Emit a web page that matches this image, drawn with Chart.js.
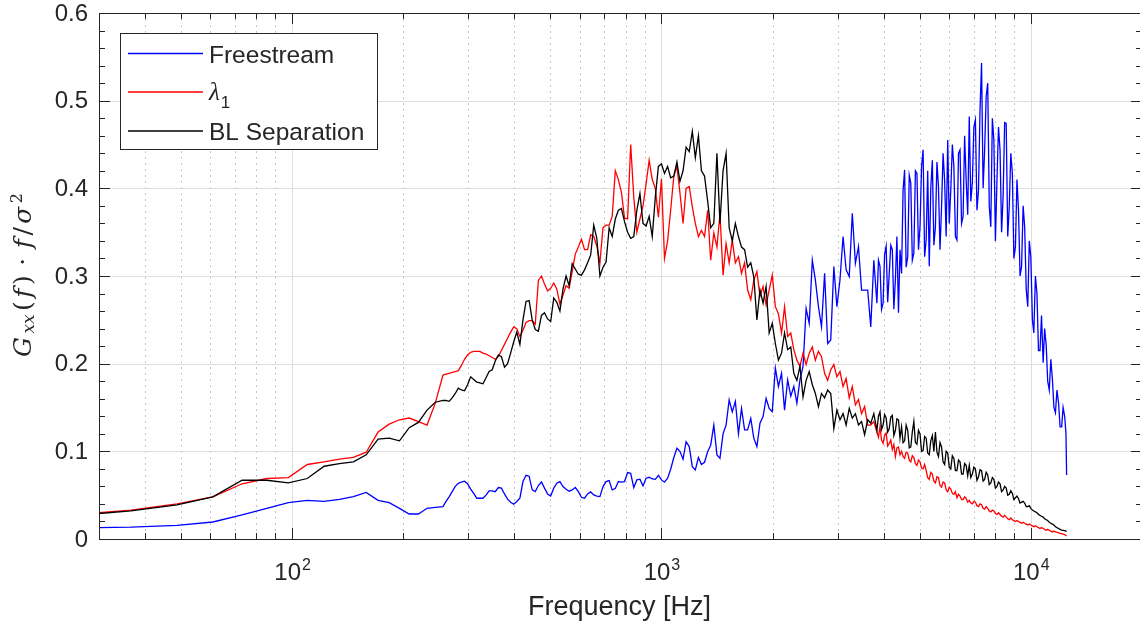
<!DOCTYPE html>
<html>
<head>
<meta charset="utf-8">
<title>Premultiplied spectra</title>
<script src="https://cdn.jsdelivr.net/npm/chart.js@4.4.1/dist/chart.umd.min.js"></script>
<style>
  html, body { margin: 0; padding: 0; background: #ffffff; overflow: hidden; }
  #wrap { width: 1144px; height: 626px; }
</style>
</head>
<body>
<div id="wrap"><canvas id="spectrumChart" width="1144" height="626"></canvas></div>
<script>
// Frequency axis [Hz] - shared by all three series
const freqHz = [
  24.4, 36.6, 48.8, 61.0, 73.2, 85.4, 97.7, 109.9, 122.1, 134.3,
  146.5, 158.7, 170.9, 183.1, 195.3, 207.5, 219.7, 231.9, 244.1,
  256.1, 261.0, 266.1, 271.2, 276.5, 281.8, 287.3, 292.9, 298.5, 304.3, 310.2,
  316.2, 322.4, 328.6, 335.0, 341.5, 348.1, 354.8, 361.7, 368.7, 375.8,
  383.1, 390.5, 398.1, 405.8, 413.7, 421.7, 429.9, 438.2, 446.7, 455.3,
  464.2, 473.2, 482.3, 491.7, 501.2, 510.9, 520.8, 530.9, 541.2, 551.7,
  562.3, 573.2, 584.3, 595.7, 607.2, 619.0, 631.0, 643.2, 655.6, 668.3,
  681.3, 694.5, 707.9, 721.7, 735.6, 749.9, 764.4, 779.2, 794.3, 809.7,
  825.4, 841.4, 857.7, 874.3, 891.3, 908.5, 926.1, 944.1, 962.4, 981.0,
  1000, 1019, 1039, 1059, 1080, 1101, 1122, 1144, 1166, 1189,
  1212, 1235, 1259, 1283, 1308, 1334, 1359, 1386, 1413, 1440,
  1468, 1496, 1525, 1555, 1585, 1616, 1647, 1679, 1711, 1745,
  1778, 1813, 1848, 1884, 1920, 1957, 1995, 2034, 2073, 2114,
  2154, 2196, 2239, 2282, 2326, 2371, 2417, 2464, 2512, 2561,
  2610, 2661, 2712, 2765, 2818, 2873, 2929, 2985, 3043, 3102,
  3162, 3224, 3286, 3350, 3415, 3481, 3548, 3617, 3687, 3758,
  3831, 3868, 3905, 3943, 3981, 4019, 4058, 4097, 4137, 4177,
  4217, 4258, 4299, 4340, 4382, 4424, 4467, 4510, 4553, 4597,
  4642, 4687, 4732, 4777, 4823, 4870, 4917, 4964, 5012, 5060,
  5109, 5158, 5208, 5258, 5309, 5360, 5412, 5464, 5517, 5570,
  5623, 5677, 5732, 5787, 5843, 5899, 5957, 6014, 6072, 6131,
  6190, 6250, 6310, 6371, 6432, 6494, 6556, 6619, 6683, 6748,
  6813, 6879, 6945, 7012, 7079, 7148, 7217, 7286, 7356, 7427,
  7499, 7571, 7644, 7718, 7792, 7868, 7943, 8020, 8097, 8175,
  8254, 8334, 8414, 8495, 8577, 8660, 8743, 8828, 8913, 8999,
  9085, 9173, 9261, 9351, 9441, 9532, 9624, 9717, 9810, 9905,
  10000, 10100, 10190, 10290, 10390, 10490, 10590, 10690, 10800, 10900,
  11010, 11110, 11220, 11330, 11440, 11550, 11660, 11770, 11890, 12000,
  12120, 12230, 12350, 12450, 12500
];

// Freestream
const freestream = [
  0.0125, 0.0135, 0.0156, 0.0194, 0.0274, 0.035, 0.0414, 0.0441, 0.043, 0.0452,
  0.0483, 0.0532, 0.0441, 0.0414, 0.035, 0.0285, 0.0285, 0.035, 0.036,
  0.037, 0.043, 0.048, 0.054, 0.060, 0.0635, 0.065, 0.066, 0.063, 0.057, 0.052,
  0.0465, 0.0465, 0.0465, 0.050, 0.055, 0.055, 0.054, 0.0587, 0.058, 0.0514,
  0.0454, 0.042, 0.0397, 0.0427, 0.0465, 0.0655, 0.0727, 0.0716, 0.056, 0.054,
  0.061, 0.065, 0.058, 0.0514, 0.049, 0.058, 0.0636, 0.0655, 0.0598, 0.0568,
  0.0545, 0.056, 0.0587, 0.054, 0.0476, 0.0465, 0.0514, 0.0537, 0.0503, 0.049,
  0.0484, 0.0598, 0.0655, 0.0666, 0.056, 0.0575, 0.0655, 0.0648, 0.0655, 0.0758,
  0.075, 0.0587, 0.0674, 0.0682, 0.0606, 0.0693, 0.0704, 0.0685, 0.068, 0.0727,
  0.0674, 0.0648, 0.0693, 0.0796, 0.093, 0.1035, 0.100, 0.091, 0.111, 0.1054,
  0.0826, 0.0788, 0.093, 0.0849, 0.0875, 0.0997, 0.107, 0.130, 0.0959, 0.092,
  0.120, 0.130, 0.1586, 0.145, 0.157, 0.120, 0.149, 0.1244, 0.1244, 0.1377,
  0.115, 0.1054, 0.132, 0.1396, 0.1605, 0.149, 0.1453, 0.195, 0.174, 0.189,
  0.147, 0.1815, 0.163, 0.174, 0.155, 0.1815, 0.197, 0.263, 0.246, 0.318,
  0.2955, 0.265, 0.242, 0.303, 0.223, 0.227, 0.3107, 0.265, 0.2955, 0.345,
  0.307, 0.2993, 0.3715, 0.3145, 0.3335, 0.284, 0.284, 0.284, 0.242, 0.318,
  0.269, 0.318, 0.311, 0.262, 0.269, 0.325, 0.334, 0.270, 0.303, 0.335,
  0.330, 0.262, 0.296, 0.345, 0.258, 0.330, 0.303, 0.398, 0.421, 0.310,
  0.322, 0.415, 0.406, 0.318, 0.326, 0.420, 0.417, 0.330, 0.356, 0.425,
  0.444, 0.322, 0.341, 0.420, 0.311, 0.400, 0.432, 0.335, 0.356, 0.430,
  0.402, 0.330, 0.379, 0.440, 0.409, 0.345, 0.455, 0.360, 0.398, 0.450,
  0.425, 0.345, 0.341, 0.440, 0.444, 0.360, 0.368, 0.460, 0.409, 0.370,
  0.482, 0.385, 0.406, 0.470, 0.478, 0.375, 0.398, 0.490, 0.543, 0.400,
  0.444, 0.505, 0.520, 0.380, 0.356, 0.480, 0.455, 0.340, 0.409, 0.470,
  0.444, 0.350, 0.391, 0.475, 0.474, 0.345, 0.379, 0.440, 0.417, 0.320,
  0.333, 0.410, 0.375, 0.300, 0.311, 0.380, 0.356, 0.285, 0.265, 0.340,
  0.322, 0.250, 0.235, 0.300, 0.280, 0.215, 0.215, 0.255, 0.201, 0.240,
  0.220, 0.180, 0.170, 0.205, 0.182, 0.150, 0.144, 0.170, 0.155, 0.128,
  0.128, 0.150, 0.140, 0.120, 0.073
];

// lambda_1
const lambda1 = [
  0.027, 0.033, 0.040, 0.048, 0.063, 0.069, 0.070, 0.085, 0.088, 0.091,
  0.093, 0.099, 0.122, 0.131, 0.136, 0.138, 0.134, 0.130, 0.155,
  0.187, 0.188, 0.189, 0.190, 0.191, 0.192, 0.198, 0.205, 0.210, 0.213, 0.214,
  0.214, 0.214, 0.212, 0.211, 0.209, 0.207, 0.205, 0.208, 0.215, 0.222,
  0.229, 0.236, 0.242, 0.240, 0.231, 0.238, 0.247, 0.249, 0.249, 0.245,
  0.295, 0.300, 0.291, 0.283, 0.286, 0.292, 0.285, 0.268, 0.278, 0.289,
  0.286, 0.305, 0.325, 0.333, 0.342, 0.330, 0.330, 0.347, 0.345, 0.334,
  0.315, 0.355, 0.358, 0.358, 0.368, 0.420, 0.410, 0.395, 0.366, 0.365,
  0.450, 0.390, 0.350, 0.365, 0.380, 0.405, 0.432, 0.410, 0.400, 0.367,
  0.411, 0.320, 0.340, 0.375, 0.414, 0.425, 0.395, 0.360, 0.400, 0.402,
  0.379, 0.360, 0.345, 0.352, 0.345, 0.375, 0.318, 0.349, 0.333, 0.371,
  0.301, 0.337, 0.315, 0.341, 0.315, 0.322, 0.303, 0.315, 0.284, 0.273,
  0.295, 0.305, 0.277, 0.288, 0.267, 0.284, 0.301, 0.265, 0.257, 0.235,
  0.265, 0.231, 0.235, 0.216, 0.204, 0.197, 0.212, 0.199, 0.212, 0.219,
  0.204, 0.214, 0.208, 0.189, 0.181, 0.193, 0.199, 0.185, 0.191, 0.174,
  0.183, 0.161, 0.174, 0.153, 0.159, 0.143, 0.151, 0.130, 0.130, 0.134,
  0.122, 0.116, 0.128, 0.113, 0.109, 0.118, 0.121, 0.106, 0.109, 0.113,
  0.102, 0.108, 0.094, 0.104, 0.105, 0.096, 0.100, 0.094, 0.092, 0.099,
  0.098, 0.090, 0.088, 0.095, 0.093, 0.086, 0.084, 0.090, 0.088, 0.081,
  0.080, 0.085, 0.078, 0.070, 0.068, 0.076, 0.074, 0.066, 0.064, 0.071,
  0.070, 0.061, 0.059, 0.065, 0.064, 0.056, 0.054, 0.059, 0.057, 0.052,
  0.051, 0.054, 0.047, 0.051, 0.049, 0.045, 0.045, 0.048, 0.046, 0.042,
  0.044, 0.041, 0.040, 0.043, 0.042, 0.038, 0.037, 0.040, 0.039, 0.035,
  0.034, 0.037, 0.035, 0.032, 0.031, 0.033, 0.032, 0.029, 0.028, 0.030,
  0.028, 0.026, 0.025, 0.027, 0.025, 0.023, 0.022, 0.024, 0.022, 0.021,
  0.020, 0.021, 0.020, 0.019, 0.018, 0.019, 0.018, 0.017, 0.016, 0.017,
  0.016, 0.015, 0.014, 0.015, 0.014, 0.013, 0.012, 0.013, 0.012, 0.011,
  0.010, 0.011, 0.010, 0.009, 0.008, 0.009, 0.008, 0.0075, 0.007, 0.0065,
  0.006, 0.0055, 0.005, 0.004, 0.0035
];

// BL Separation
const blSeparation = [
  0.026, 0.032, 0.039, 0.048, 0.067, 0.067, 0.064, 0.069, 0.083, 0.086,
  0.088, 0.096, 0.114, 0.115, 0.112, 0.127, 0.133, 0.147, 0.156,
  0.158, 0.158, 0.157, 0.161, 0.166, 0.172, 0.170, 0.169, 0.176, 0.185, 0.182,
  0.179, 0.178, 0.177, 0.184, 0.191, 0.193, 0.203, 0.210, 0.208, 0.196,
  0.200, 0.212, 0.225, 0.236, 0.222, 0.250, 0.271, 0.272, 0.250, 0.239,
  0.237, 0.255, 0.258, 0.251, 0.248, 0.275, 0.270, 0.260, 0.285, 0.300,
  0.289, 0.314, 0.308, 0.302, 0.301, 0.307, 0.315, 0.324, 0.358, 0.343,
  0.300, 0.310, 0.316, 0.355, 0.345, 0.365, 0.375, 0.377, 0.362, 0.350,
  0.343, 0.345, 0.375, 0.394, 0.360, 0.357, 0.368, 0.345, 0.390, 0.425,
  0.428, 0.417, 0.425, 0.412, 0.414, 0.430, 0.408, 0.420, 0.447, 0.442,
  0.465, 0.435, 0.460, 0.420, 0.414, 0.385, 0.355, 0.360, 0.440, 0.360,
  0.420, 0.440, 0.355, 0.340, 0.360, 0.345, 0.333, 0.330, 0.310, 0.315,
  0.299, 0.250, 0.284, 0.269, 0.288, 0.235, 0.246, 0.223, 0.204, 0.212,
  0.235, 0.216, 0.219, 0.189, 0.181, 0.197, 0.162, 0.181, 0.191, 0.176,
  0.166, 0.151, 0.166, 0.161, 0.170, 0.166, 0.126, 0.147, 0.136, 0.143,
  0.130, 0.149, 0.138, 0.143, 0.130, 0.134, 0.119, 0.136, 0.132, 0.143,
  0.124, 0.140, 0.145, 0.125, 0.130, 0.142, 0.138, 0.122, 0.126, 0.139,
  0.141, 0.118, 0.124, 0.137, 0.136, 0.115, 0.128, 0.110, 0.112, 0.130,
  0.124, 0.104, 0.105, 0.122, 0.134, 0.110, 0.108, 0.124, 0.120, 0.100,
  0.101, 0.117, 0.115, 0.098, 0.096, 0.112, 0.118, 0.100, 0.122, 0.099,
  0.094, 0.110, 0.105, 0.088, 0.085, 0.100, 0.098, 0.082, 0.080, 0.095,
  0.092, 0.078, 0.078, 0.090, 0.088, 0.074, 0.074, 0.086, 0.084, 0.072,
  0.084, 0.070, 0.074, 0.082, 0.080, 0.067, 0.071, 0.079, 0.078, 0.066,
  0.068, 0.076, 0.073, 0.062, 0.064, 0.070, 0.068, 0.058, 0.060, 0.065,
  0.063, 0.054, 0.056, 0.060, 0.058, 0.050, 0.051, 0.055, 0.052, 0.045,
  0.047, 0.049, 0.046, 0.041, 0.042, 0.043, 0.041, 0.037, 0.037, 0.038,
  0.035, 0.033, 0.032, 0.031, 0.030, 0.028, 0.027, 0.026, 0.025, 0.023,
  0.022, 0.021, 0.019, 0.018, 0.017, 0.016, 0.014, 0.013, 0.012, 0.011,
  0.010, 0.0098, 0.0095, 0.009, 0.0085
];

// Axis ticks
const yTickValues = [0, 0.1, 0.2, 0.3, 0.4, 0.5, 0.6];
const xMajorTicks = [100, 1000, 10000];
const xMinorTicks = [30, 40, 50, 60, 70, 80, 90,
  200, 300, 400, 500, 600, 700, 800, 900,
  2000, 3000, 4000, 5000, 6000, 7000, 8000, 9000];

const TEXT = '#262626';
const SANS = '"Liberation Sans", Arial, sans-serif';
const SERIF = '"DejaVu Serif", "Liberation Serif", serif';

function toPoints(values) {
  return freqHz.map((f, i) => ({ x: f, y: values[i] }));
}

// MATLAB-like axes: grid, boxed ticks, labels and legend
const matlabAxes = {
  id: 'matlabAxes',
  beforeDatasetsDraw(chart) {
    const { ctx, chartArea: a, scales: { x, y } } = chart;
    ctx.save();
    ctx.lineWidth = 1;
    ctx.strokeStyle = '#c6c6c6';
    ctx.setLineDash([2, 4]);
    xMinorTicks.forEach(f => {
      const px = Math.round(x.getPixelForValue(f)) + 0.5;
      ctx.beginPath(); ctx.moveTo(px, a.top); ctx.lineTo(px, a.bottom); ctx.stroke();
    });
    ctx.setLineDash([]);
    ctx.strokeStyle = '#dedede';
    xMajorTicks.forEach(f => {
      const px = Math.round(x.getPixelForValue(f)) + 0.5;
      ctx.beginPath(); ctx.moveTo(px, a.top); ctx.lineTo(px, a.bottom); ctx.stroke();
    });
    yTickValues.forEach(v => {
      const py = Math.round(y.getPixelForValue(v)) + 0.5;
      ctx.beginPath(); ctx.moveTo(a.left, py); ctx.lineTo(a.right, py); ctx.stroke();
    });
    ctx.restore();
  },
  afterDraw(chart) {
    const { ctx, chartArea: a, scales: { x, y } } = chart;
    ctx.save();
    ctx.strokeStyle = TEXT;
    ctx.fillStyle = TEXT;
    ctx.lineWidth = 1;

    // box
    ctx.strokeRect(a.left + 0.5, a.top + 0.5, a.right - a.left, a.bottom - a.top);

    // x ticks, inside, bottom and top
    const xTick = (f, len) => {
      const px = Math.round(x.getPixelForValue(f)) + 0.5;
      ctx.beginPath();
      ctx.moveTo(px, a.bottom); ctx.lineTo(px, a.bottom - len);
      ctx.moveTo(px, a.top); ctx.lineTo(px, a.top + len);
      ctx.stroke();
    };
    xMinorTicks.forEach(f => xTick(f, 6));
    xMajorTicks.forEach(f => xTick(f, 11));

    // y ticks, inside, left and right
    const yTick = (v, len) => {
      const py = Math.round(y.getPixelForValue(v)) + 0.5;
      ctx.beginPath();
      ctx.moveTo(a.left, py); ctx.lineTo(a.left + len, py);
      ctx.moveTo(a.right, py); ctx.lineTo(a.right - len, py);
      ctx.stroke();
    };
    for (let k = 1; k < 30; k++) if (k % 5 !== 0) yTick(k * 0.02, 6);
    yTickValues.forEach(v => yTick(v, 11));

    // y tick labels
    ctx.font = '24px ' + SANS;
    ctx.textAlign = 'right';
    ctx.textBaseline = 'middle';
    yTickValues.forEach(v => {
      ctx.fillText(v === 0 ? '0' : v.toFixed(1), a.left - 11, y.getPixelForValue(v) + 1);
    });

    // x tick labels 10^n
    ctx.textBaseline = 'alphabetic';
    ctx.textAlign = 'left';
    xMajorTicks.forEach(f => {
      const exp = String(Math.round(Math.log10(f)));
      ctx.font = '24px ' + SANS;
      const wBase = ctx.measureText('10').width;
      ctx.font = '16px ' + SANS;
      const wExp = ctx.measureText(exp).width;
      const x0 = x.getPixelForValue(f) - (wBase + wExp) / 2;
      ctx.font = '24px ' + SANS;
      ctx.fillText('10', x0, 580);
      ctx.font = '16px ' + SANS;
      ctx.fillText(exp, x0 + wBase + 1, 570);
    });

    // x title
    ctx.font = '27px ' + SANS;
    ctx.textAlign = 'center';
    ctx.fillText('Frequency [Hz]', (a.left + a.right) / 2 - 1, 615);

    // y title: G_xx(f) . f / sigma^2, laid out along a 164 px run
    ctx.save();
    ctx.translate(31, 357);
    ctx.rotate(-Math.PI / 2);
    ctx.textAlign = 'left';
    const pieces = [
      ['G', 'italic 25px ' + SERIF, 0, 0],
      ['xx', 'italic 17px ' + SERIF, 3, 0],
      ['(', '25px ' + SERIF, 0, 0],
      ['f', 'italic 25px ' + SERIF, 0, 0],
      [')', '25px ' + SERIF, 0, 0],
      ['\u00B7', '25px ' + SERIF, 0, 6],
      ['f', 'italic 25px ' + SERIF, 0, 0],
      ['/', '25px ' + SERIF, 0, 0],
      ['\u03C3', 'italic 25px ' + SERIF, 0, 0],
      ['2', '16px ' + SERIF, -9, 0]
    ];
    let natural = 0;
    pieces.forEach(p => { ctx.font = p[1]; natural += ctx.measureText(p[0]).width + 2 * p[3]; });
    const gap = Math.max(0, (164 - natural) / (pieces.length - 1));
    let run = 0;
    pieces.forEach(([t, font, dy, pad]) => {
      ctx.font = font;
      run += pad;
      ctx.fillText(t, run, dy);
      run += ctx.measureText(t).width + pad + gap;
    });
    ctx.restore();

    // legend
    const lx = 120, ly = 33, lw = 258, lh = 117;
    ctx.fillStyle = '#ffffff';
    ctx.fillRect(lx, ly, lw, lh);
    ctx.strokeStyle = TEXT;
    ctx.strokeRect(lx + 0.5, ly + 0.5, lw - 1, lh - 1);
    const rowLine = [53.5, 92, 131];
    const rowBase = [62.5, 100, 140];
    chart.data.datasets.forEach((ds, i) => {
      ctx.strokeStyle = ds.borderColor;
      ctx.lineWidth = 1.3;
      ctx.beginPath();
      ctx.moveTo(128, rowLine[i]); ctx.lineTo(203, rowLine[i]);
      ctx.stroke();
      ctx.fillStyle = TEXT;
      ctx.textAlign = 'left';
      if (ds.label === '\u03BB\u2081') {
        ctx.font = 'italic 25px "Liberation Serif", serif';
        ctx.fillText('\u03BB', 209, rowBase[i]);
        const w = ctx.measureText('\u03BB').width;
        ctx.font = '17px ' + SANS;
        ctx.fillText('1', 209 + w + 1, rowBase[i] + 8);
      } else {
        ctx.font = '24.5px ' + SANS;
        ctx.fillText(ds.label, 209, rowBase[i]);
      }
    });
    ctx.restore();
  }
};

new Chart(document.getElementById('spectrumChart'), {
  type: 'line',
  data: {
    datasets: [
      { label: 'Freestream', data: toPoints(freestream), borderColor: '#0000ff', order: 3 },
      { label: '\u03BB\u2081', data: toPoints(lambda1), borderColor: '#ff0000', order: 2 },
      { label: 'BL Separation', data: toPoints(blSeparation), borderColor: '#000000', order: 1 }
    ]
  },
  options: {
    responsive: false,
    animation: false,
    devicePixelRatio: 1,
    layout: { padding: { left: 99, top: 13, right: 2, bottom: 87 } },
    elements: {
      point: { radius: 0, hoverRadius: 0 },
      line: { borderWidth: 1.3, tension: 0, fill: false }
    },
    datasets: { line: { clip: 0 } },
    scales: {
      x: { type: 'logarithmic', min: 30, max: 20000, display: false },
      y: { type: 'linear', min: 0, max: 0.6, display: false }
    },
    plugins: { legend: { display: false }, tooltip: { enabled: false } }
  },
  plugins: [matlabAxes]
});
</script>
</body>
</html>
